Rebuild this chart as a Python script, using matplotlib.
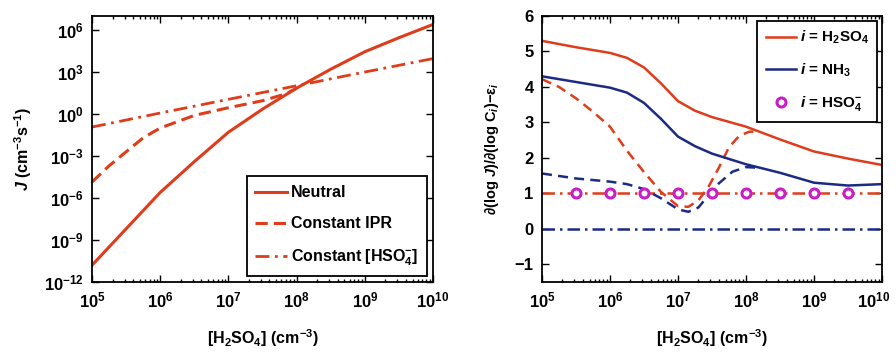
import numpy as np
import matplotlib
matplotlib.use('Agg')
import matplotlib.pyplot as plt
from matplotlib.ticker import LogLocator, NullLocator, LogFormatterMathtext, FixedLocator
from matplotlib.transforms import ScaledTranslation

plt.rcParams['font.family'] = ['Liberation Sans', 'DejaVu Sans']
plt.rcParams['font.weight'] = 'bold'
plt.rcParams['axes.labelweight'] = 'bold'
plt.rcParams['font.size'] = 11.5
plt.rcParams['mathtext.fontset'] = 'custom'
plt.rcParams['mathtext.rm'] = 'Liberation Sans:weight=bold'
plt.rcParams['mathtext.bf'] = 'Liberation Sans:weight=bold'
plt.rcParams['mathtext.it'] = 'Liberation Sans:italic:weight=bold'
plt.rcParams['mathtext.default'] = 'bf'

ROJO = '#DE3C1A'
AZUL = '#1B2A82'
MAGENTA = '#C81EC8'

# ---- painel esquerdo: log10(J) vs log10([H2SO4])
neutro_x = [5, 5.5, 6, 6.5, 7, 7.5, 8, 8.5, 9, 9.5, 10]
neutro_logj = [-10.8, -8.2, -5.6, -3.4, -1.3, 0.35, 1.85, 3.2, 4.45, 5.45, 6.4]

ipr_x = [5, 5.25, 5.5, 5.75, 6, 6.5, 7, 7.5, 7.85, 8.0]
ipr_logj = [-4.86, -3.7, -2.7, -1.7, -1.0, -0.1, 0.45, 0.95, 1.45, 1.85]

hso4_x = [5, 6, 7, 8, 9, 10]
hso4_logj = [-0.93, 0.07, 1.05, 2.02, 3.0, 3.96]

# ---- painel direito: sensibilidades
sens_x = [5, 5.5, 6, 6.25, 6.5, 6.75, 7, 7.25, 7.5, 8, 8.5, 9, 9.5, 10]
h2so4_sens = [5.30, 5.12, 4.96, 4.82, 4.55, 4.10, 3.60, 3.33, 3.15, 2.88, 2.52, 2.18, 1.98, 1.80]
nh3_sens = [4.30, 4.14, 3.98, 3.84, 3.55, 3.10, 2.60, 2.33, 2.12, 1.82, 1.58, 1.30, 1.22, 1.26]

h2so4_ipr_x = [5, 5.25, 5.5, 5.75, 6, 6.25, 6.5, 6.75, 7, 7.15, 7.3, 7.45, 7.6, 7.75, 7.9, 8.05, 8.2]
h2so4_ipr = [4.22, 4.0, 3.68, 3.30, 2.88, 2.20, 1.60, 1.04, 0.64, 0.62, 0.80, 1.19, 1.72, 2.30, 2.62, 2.74, 2.73]

nh3_ipr_x = [5, 5.5, 6, 6.25, 6.5, 6.75, 7, 7.15, 7.3, 7.45, 7.6, 7.8, 8.0, 8.2]
nh3_ipr = [1.56, 1.42, 1.33, 1.26, 1.12, 0.86, 0.55, 0.48, 0.60, 0.95, 1.28, 1.61, 1.74, 1.72]

const_x = [5, 10]
h2so4_const = [1, 1]
nh3_const = [0, 0]

circ_x = [5.5, 6, 6.5, 7, 7.5, 8, 8.5, 9, 9.5]
circ_y = [1, 1, 1, 1, 1, 1, 1, 1, 1]


def pot(v):
    return 10.0 ** np.array(v)


def estilo_eixo(ax):
    ax.set_xscale('log')
    ax.set_xlim(1e5, 1e10)
    ax.xaxis.set_major_locator(FixedLocator([1e5, 1e6, 1e7, 1e8, 1e9, 1e10]))
    ax.xaxis.set_minor_locator(LogLocator(base=10, subs=np.arange(2, 10), numticks=12))
    ax.xaxis.set_major_formatter(LogFormatterMathtext())
    ax.tick_params(which='both', direction='in', top=True, right=True, width=1.0)
    ax.tick_params(which='major', length=5, labelsize=12, pad=6)
    ax.tick_params(which='minor', length=2.5)
    for s in ax.spines.values():
        s.set_linewidth(1.3)
    ax.set_xlabel(r'[H$_2$SO$_4$] (cm$^{-3}$)', labelpad=12)


fig = plt.figure(figsize=(8.96, 3.53), dpi=100)
ax1 = fig.add_axes([0.1027, 0.2011, 0.3806, 0.7535])
ax2 = fig.add_axes([0.6049, 0.2011, 0.3795, 0.7535])

# esquerdo
ax1.plot(pot(hso4_x), pot(hso4_logj), color=ROJO, lw=2, ls=(0, (5, 2, 1, 2)), label=r'Constant [HSO$_4^{-}$]')
ax1.plot(pot(ipr_x), pot(ipr_logj), color=ROJO, lw=2.2, ls=(0, (4, 2)), label='Constant IPR')
ax1.plot(pot(neutro_x), pot(neutro_logj), color=ROJO, lw=2.2, ls='-', label='Neutral')
estilo_eixo(ax1)
ax1.set_yscale('log')
ax1.set_ylim(1e-12, 1e7)
ax1.yaxis.set_major_locator(FixedLocator([1e-12, 1e-9, 1e-6, 1e-3, 1e0, 1e3, 1e6]))
ax1.yaxis.set_minor_locator(NullLocator())
ax1.yaxis.set_major_formatter(LogFormatterMathtext())
ax1.set_ylabel(r'$\mathit{J}$ (cm$^{-3}$s$^{-1}$)', labelpad=7)
h, l = ax1.get_legend_handles_labels()
leg1 = ax1.legend(h[::-1], l[::-1], loc='lower right', borderaxespad=0.35, fancybox=False,
                  edgecolor='black', framealpha=1, handlelength=2.0, handletextpad=0.25,
                  labelspacing=1.0, borderpad=0.55, fontsize=11.5)
leg1.get_frame().set_linewidth(1.3)

# direito
ax2.plot(pot(const_x), nh3_const, color=AZUL, lw=1.8, ls=(0, (5, 2, 1, 2)))
ax2.plot(pot(const_x), h2so4_const, color=ROJO, lw=1.8, ls=(0, (5, 2, 1, 2)))
ax2.plot(pot(h2so4_ipr_x), h2so4_ipr, color=ROJO, lw=1.8, ls=(0, (4, 2.5)))
ax2.plot(pot(nh3_ipr_x), nh3_ipr, color=AZUL, lw=1.8, ls=(0, (4, 2.5)))
l_h2so4, = ax2.plot(pot(sens_x), h2so4_sens, color=ROJO, lw=1.8, label=r'$\mathit{i}$ = H$_2$SO$_4$')
l_nh3, = ax2.plot(pot(sens_x), nh3_sens, color=AZUL, lw=1.8, label=r'$\mathit{i}$ = NH$_3$')
l_circ, = ax2.plot(pot(circ_x), circ_y, ls='none', marker='o', ms=6.5, mfc='white', mec=MAGENTA,
                   mew=2.2, label=r'$\mathit{i}$ = HSO$_4^{-}$')
estilo_eixo(ax2)
ax2.set_ylim(-1.5, 6)
ax2.set_yticks([-1, 0, 1, 2, 3, 4, 5, 6])
ax2.set_yticklabels(['\u22121', '0', '1', '2', '3', '4', '5', '6'])
ax2.set_ylabel('\u2202(log $\\mathit{J}$)/\u2202(log C$_{\\mathit{i}}$)\u2212\u03b5$_{\\mathit{i}}$',
               labelpad=10, fontsize=10.5)
leg2 = ax2.legend(handles=[l_h2so4, l_nh3, l_circ], loc='upper right', borderaxespad=0.3,
                  fancybox=False, edgecolor='black', framealpha=1, handlelength=2.0,
                  handletextpad=0.25, labelspacing=1.0, borderpad=0.55, fontsize=11)
leg2.get_frame().set_linewidth(1.3)

# o rotulo 10^10 da direita passa da borda; empurra um pouco para a esquerda
fig.canvas.draw()
for t in ax2.xaxis.get_major_ticks():
    if np.isclose(t.get_loc(), 1e10):
        t.label1.set_transform(t.label1.get_transform() + ScaledTranslation(-6 / 72, 0, fig.dpi_scale_trans))

fig.savefig('out.png', dpi=100)
